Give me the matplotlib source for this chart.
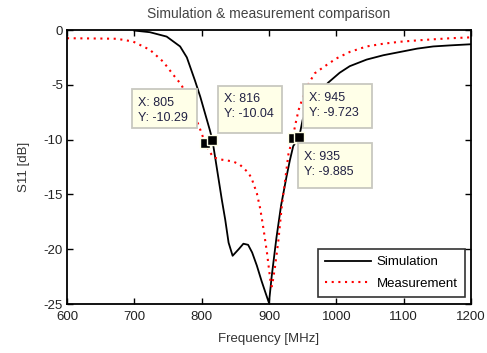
import matplotlib
matplotlib.use("Agg")
import matplotlib.pyplot as plt
from matplotlib.patches import Rectangle

plt.rcParams['font.family'] = ['Liberation Sans', 'DejaVu Sans']
plt.rcParams['axes.unicode_minus'] = False

sim_f = [700, 723, 748, 768, 778, 790, 798, 805, 812, 816, 820, 830, 835, 840, 846, 855,
         862, 869, 875, 882, 889, 895, 900, 904, 911, 918, 926, 931, 936, 945, 950, 960,
         975, 988, 1005, 1020, 1045, 1070, 1095, 1120, 1144, 1170, 1200]
sim_s = [-0.05, -0.2, -0.6, -1.5, -2.5, -4.6, -6.1, -7.6, -9.1, -10.04, -11.6, -15.5, -17.3,
         -19.4, -20.6, -20.0, -19.5, -19.6, -20.3, -21.5, -22.9, -24.0, -24.9, -22.5, -19.0,
         -16.0, -13.4, -11.9, -10.6, -9.723, -8.2, -6.8, -5.7, -4.8, -3.9, -3.3, -2.7, -2.3,
         -2.0, -1.7, -1.5, -1.4, -1.3]

meas_f = [600, 650, 674, 698, 723, 743, 758, 770, 785, 798, 805, 812, 817, 827, 847, 857,
          869, 874, 882, 887, 892, 897, 902, 904, 906, 909, 914, 919, 924, 929, 935, 940,
          944, 949, 956, 968, 983, 1000, 1020, 1045, 1070, 1095, 1120, 1144, 1170, 1200]
meas_s = [-0.75, -0.78, -0.8, -1.05, -1.8, -2.9, -4.1, -5.0, -7.0, -9.1, -10.29, -11.1,
          -11.6, -11.8, -12.0, -12.3, -13.0, -13.5, -14.9, -16.3, -18.2, -20.3, -22.8, -23.4,
          -22.8, -21.6, -19.2, -16.1, -13.7, -11.3, -9.885, -8.4, -7.3, -6.4, -5.2, -3.95,
          -3.3, -2.6, -2.0, -1.5, -1.25, -1.07, -0.95, -0.85, -0.75, -0.67]

tips_x = [805, 816, 935, 945]
tips_y = [-10.29, -10.04, -9.885, -9.723]
tips_label = ['-10.29', '-10.04', '-9.885', '-9.723']
# data-tip boxes in axes fraction: (x0, x1, y_bottom, y_top)
tip_boxes = [(0.160, 0.321, 0.641, 0.7836),
             (0.373, 0.533, 0.625, 0.796),
             (0.5725, 0.754, 0.4223, 0.5865),
             (0.585, 0.754, 0.641, 0.802)]

xticks = [600, 700, 800, 900, 1000, 1100, 1200]
yticks = [0, -5, -10, -15, -20, -25]

FS = 9.5
fig = plt.figure(figsize=(4.87, 3.53), dpi=100)
ax = fig.add_axes([0.1376, 0.1388, 0.8294, 0.7762])

ax.plot(sim_f, sim_s, color='black', lw=1.3, label='Simulation')
ax.plot(meas_f, meas_s, color='red', lw=1.5, linestyle=(0, (1, 2.2)), label='Measurement')

ax.set_xlim(600, 1200)
ax.set_ylim(-25, 0)
ax.set_xticks(xticks)
ax.set_yticks(yticks)
ax.tick_params(direction='in', top=True, right=True, length=4, width=1, labelsize=FS,
               labelcolor='#222222')
ax.tick_params(axis='x', pad=5)
ax.tick_params(axis='y', pad=3)
for s in ax.spines.values():
    s.set_linewidth(1.3)

ax.set_title('Simulation & measurement comparison', fontsize=10, pad=8.5, color='#444444')
ax.set_xlabel('Frequency [MHz]', fontsize=FS, labelpad=7, color='#333333')
ax.set_ylabel('S11 [dB]', fontsize=FS, labelpad=9.5, color='#333333')

ax_h_px = 274.0
for x, y, lab, (x0, x1, yb, yt) in zip(tips_x, tips_y, tips_label, tip_boxes):
    ax.plot([x], [y], marker='s', ms=7.5, color='black', mec='#ffffe6', mew=1, zorder=6)
    ax.add_patch(Rectangle((x0, yb), x1 - x0, yt - yb, transform=ax.transAxes,
                           fc='#ffffe8', ec='#c8c8c0', lw=1.3, zorder=7))
    tx = x0 + 6 / 404.0
    ax.text(tx, yt - 13.5 / ax_h_px, 'X: %d' % x, transform=ax.transAxes, fontsize=9,
            va='center', ha='left', zorder=8, color='#222244')
    ax.text(tx, yt - 28.5 / ax_h_px, 'Y: ' + lab, transform=ax.transAxes, fontsize=9,
            va='center', ha='left', zorder=8, color='#222244')

leg = ax.legend(loc='lower right', bbox_to_anchor=(0.985, 0.0255), fontsize=FS,
                frameon=True, fancybox=False, edgecolor='black', borderaxespad=0,
                handlelength=3.5, handletextpad=0.4, borderpad=0.55, labelspacing=0.7)
leg.get_frame().set_linewidth(1.2)
leg.set_zorder(9)

fig.savefig('out.png', dpi=100)
